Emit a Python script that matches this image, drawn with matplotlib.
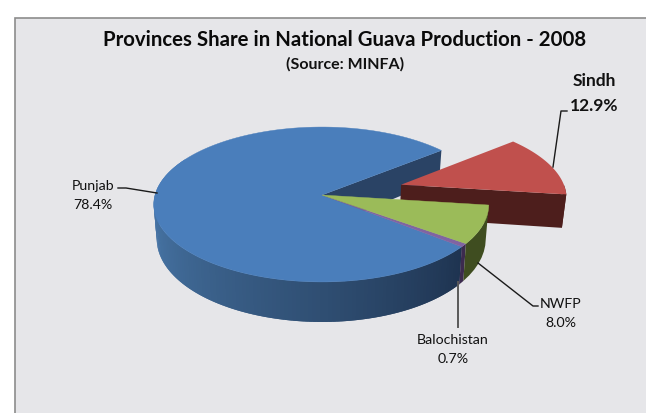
import numpy as np
import matplotlib
matplotlib.use("Agg")
import matplotlib.pyplot as plt
from matplotlib.patches import Rectangle
from matplotlib.colors import to_rgb

categories = ["Sindh", "NWFP", "Balochistan", "Punjab"]
shares = [12.9, 8.0, 0.7, 78.4]
explode = [0.505, 0.0, 0.0, 0.0]
top_colors = ["#C0504D", "#9BBB59", "#8064A2", "#4A7EBB"]
side_colors = ["#4D1E1C", "#3F4D20", "#3C2B4F", "#1F3450"]
start_angle = 39.0      # the pie runs clockwise from here

CX, CY, R, RT, P = 322, 196, 165.5, 76.3, 0.1226
R_LEFT = 167.0
FONT = "Lato"


def project(x, y, lift=0.0):
    x = np.asarray(x, dtype=float)
    w = 1 + P * y
    drop = lift * (33.5 - 6.5 * y)
    rx = np.where(x < 0, R_LEFT, R)
    return CX + rx * x / w * (1 - 0.018 * lift), CY - RT * y / w + drop


def arc(a0, a1, ox, oy, lift=0.0, n=120):
    th = np.radians(np.linspace(a0, a1, n))
    return project(ox + np.cos(th), oy + np.sin(th), lift)


fig = plt.figure(figsize=(6.46, 4.14), dpi=100, facecolor="white")
ax = fig.add_axes([0, 0, 1, 1])
ax.set_xlim(0, 646)
ax.set_ylim(414, 0)
ax.axis("off")
ax.add_patch(Rectangle((14.5, 18.5), 640, 410, fc="#E6E6E9", ec="#8C8C8C", lw=1.2, zorder=0))

# slice geometry from the values
spans = np.array(shares) * 3.6
ends = start_angle - np.cumsum(spans)
starts = ends + spans
mids = np.radians((starts + ends) / 2)
ox = np.array(explode) * np.cos(mids)
oy = np.array(explode) * np.sin(mids)


def face(i, lift=0.0):
    xs, ys = arc(ends[i], starts[i], ox[i], oy[i], lift)
    ax0, ay0 = project(ox[i], oy[i], lift)
    return np.r_[ax0, xs], np.r_[ay0, ys]


def radial_wall(i, ang, z, color):
    t = np.radians(ang)
    px = [ox[i], ox[i] + np.cos(t)]
    py = [oy[i], oy[i] + np.sin(t)]
    x0, y0 = project(px[0], py[0])
    x1, y1 = project(px[1], py[1])
    x2, y2 = project(px[1], py[1], 1)
    x3, y3 = project(px[0], py[0], 1)
    ax.fill([x0, x1, x2, x3], [y0, y1, y2, y3], color=color, lw=0, zorder=z)


def outer_wall(i, a0, a1, colors, z):
    # painted in overlapping steps so no seams show between the shades
    angs = np.linspace(a0, a1, len(colors) + 1)
    for k, c in enumerate(colors):
        hi = angs[min(k + 2, len(colors))]
        xa, ya = arc(angs[k], hi, ox[i], oy[i], 0.0, 8)
        xb, yb = arc(hi, angs[k], ox[i], oy[i], 1.0, 8)
        ax.fill(np.r_[xa, xb], np.r_[ya, yb], fc=c, lw=0, zorder=z)


S, N, B, PJ = 0, 1, 2, 3
# inner wall of Punjab, seen through the gap
radial_wall(PJ, start_angle, 1, "#2A4365")

# Sindh, exploded
radial_wall(S, ends[S], 2, side_colors[S])
outer_wall(S, ends[S], min(starts[S], 0), [side_colors[S]], 2)
fx, fy = face(S)
ax.fill(fx, fy, color=top_colors[S], lw=0, zorder=3)

# Punjab outer wall with its light-to-dark shading
stops = np.array([170, 200, 270, 321.3])
rgb = np.array([to_rgb(c) for c in ["#4E7FB8", "#44709F", "#2F4E72", "#1E3350"]])
ws = np.linspace(150, starts[PJ] + 360, 140)
grad = [tuple(np.interp(w, stops, rgb[:, j]) for j in range(3)) for w in ws[:-1]]
outer_wall(PJ, ws[0], ws[-1], grad, 4)
outer_wall(B, ends[B], starts[B], [side_colors[B]], 4)
outer_wall(N, ends[N], starts[N], [side_colors[N]], 4)

# top faces
for i in (PJ, B, N):
    fx, fy = face(i)
    ax.fill(fx, fy, fc=top_colors[i], ec=top_colors[i], lw=0.3, zorder=5)

# leaders
leaders = [
    ([553, 168, 561, 112, 567, 112], "#1A1A1A", 1.0),
    ([478, 264, 533, 307, 538, 307], "#1A1A1A", 1.0),
    ([458, 283, 458, 328], "#595959", 1.4),
    ([118, 189, 126, 189, 157, 194], "#1A1A1A", 1.0),
]
for pts, col, lw in leaders:
    ax.plot(pts[0::2], pts[1::2], color=col, lw=lw, zorder=6)

label_pos = {"Sindh": (594, 81, 106), "NWFP": (561, 304, 323),
             "Balochistan": (453, 340, 359), "Punjab": (93, 186, 205)}
for name, v in zip(categories, shares):
    x, y1, y2 = label_pos[name]
    bold = name == "Sindh"
    fs = 12.5 if bold else 10.2
    for y, s in ((y1, name), (y2, f"{v:.1f}%")):
        ax.text(x, y, s, ha="center", va="center", fontsize=fs, family=FONT,
                fontweight="bold" if bold else "normal", color="#111111", zorder=7)

ax.text(345, 40, "Provinces Share in National Guava Production - 2008", ha="center", va="center",
        fontsize=14.66, family=FONT, fontweight="bold", color="#0A0A0A")
ax.text(345, 64, "(Source: MINFA)", ha="center", va="center",
        fontsize=11.5, family=FONT, fontweight="bold", color="#111111")

fig.savefig("out.png", dpi=100, facecolor="white")
